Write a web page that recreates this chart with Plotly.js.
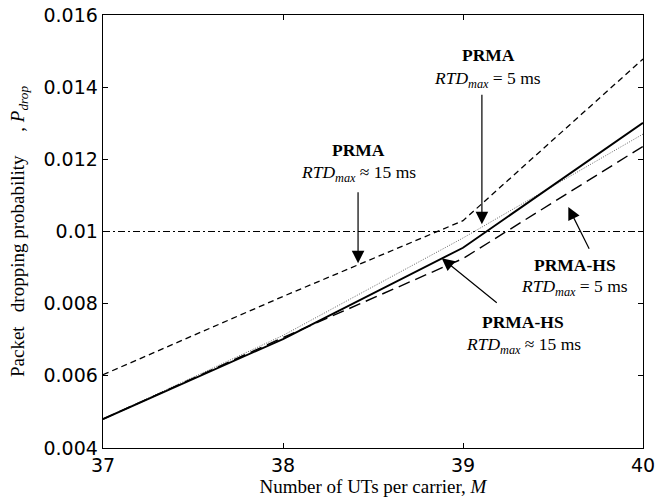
<!DOCTYPE html>
<html>
<head>
<meta charset="utf-8">
<script src="https://cdn.plot.ly/plotly-3.0.1.min.js"></script>
<style>html,body{margin:0;padding:0;background:#fff;}#chart{width:655px;height:502px;}</style>
</head>
<body>
<div id="chart"></div>
<script>
// Number of UTs per carrier
const M = [37, 38, 39, 40];
// Packet dropping probability for each scheme
const prma15 = [0.00603, 0.00820, 0.01030, 0.01478];   // PRMA, RTDmax ~ 15 ms (short dash)
const prma5 = [0.00480, 0.00712, 0.00982, 0.01270];    // PRMA, RTDmax = 5 ms (dotted)
const prmaHs15 = [0.00480, 0.00702, 0.00955, 0.01301]; // PRMA-HS, RTDmax ~ 15 ms (solid)
const prmaHs5 = [0.00480, 0.00706, 0.00925, 0.01236];  // PRMA-HS, RTDmax = 5 ms (long dash)
const thresholdX = [37, 40];
const thresholdY = [0.01, 0.01];

const xTickVals = [37, 38, 39, 40];
const xTickText = ['37', '38', '39', '40'];
const yTickVals = [0.004, 0.006, 0.008, 0.01, 0.012, 0.014, 0.016];
const yTickText = ['0.004', '0.006', '0.008', '0.01', '0.012', '0.014', '0.016'];

const serif = 'Liberation Serif, Times New Roman, serif';
const sans = 'DejaVu Sans, Arial, sans-serif';

const traces = [
  {x: thresholdX, y: thresholdY, mode: 'lines', name: 'threshold',
   line: {color: '#000', width: 1, dash: '7px,3px,2px,3px'}},
  {x: M, y: prma15, mode: 'lines', name: 'PRMA 15 ms',
   line: {color: '#000', width: 1.3, dash: '6px,4px'}},
  {x: M, y: prma5, mode: 'lines', name: 'PRMA 5 ms',
   line: {color: '#555', width: 0.9, dash: '1px,1.5px'}},
  {x: M, y: prmaHs15, mode: 'lines', name: 'PRMA-HS 15 ms',
   line: {color: '#000', width: 1.9}},
  {x: M, y: prmaHs5, mode: 'lines', name: 'PRMA-HS 5 ms',
   line: {color: '#000', width: 1.4, dash: '12px,6px'}}
];

const rtd = '<i>RTD</i><sub><i>max</i></sub>';
function label(x, y, text, bold) {
  return {x: x, y: y, xref: 'x', yref: 'y', text: bold ? '<b>' + text + '</b>' : text,
    showarrow: false, font: {family: serif, size: 17.5, color: '#000'},
    xanchor: 'center', yanchor: 'middle'};
}
function arrow(x, y, ax, ay) {
  return {x: x, y: y, ax: ax, ay: ay, xref: 'x', yref: 'y', axref: 'x', ayref: 'y',
    text: '', showarrow: true, arrowhead: 2, arrowsize: 2.1, arrowwidth: 1.2,
    arrowcolor: '#000', standoff: 0, startstandoff: 0};
}

const annotations = [
  label(38.417, 0.01225, 'PRMA', true),
  label(38.417, 0.01162, rtd + ' \u2248 15 ms', false),
  arrow(38.417, 0.00912, 38.417, 0.01113),
  label(39.143, 0.01489, 'PRMA', true),
  label(39.135, 0.01422, rtd + ' = 5 ms', false),
  arrow(39.105, 0.0102, 39.105, 0.01383),
  label(39.622, 0.00907, 'PRMA-HS', true),
  label(39.622, 0.00845, rtd + ' = 5 ms', false),
  arrow(39.585, 0.01068, 39.705, 0.00948),
  label(39.335, 0.0075, 'PRMA-HS', true),
  label(39.335, 0.00685, rtd + ' \u2248 15 ms', false),
  arrow(38.882, 0.00926, 39.196, 0.00799)
];

const layout = {
  width: 655, height: 502,
  margin: {l: 103, r: 12, t: 15, b: 54},
  paper_bgcolor: '#fff', plot_bgcolor: '#fff',
  showlegend: false,
  xaxis: {
    range: [37, 40], tickvals: xTickVals, ticktext: xTickText,
    ticks: 'inside', ticklen: 5, tickcolor: '#000', showgrid: false, zeroline: false,
    showline: true, linecolor: '#000', linewidth: 1.3, mirror: 'ticks',
    ticklabeloverflow: 'allow',
    tickfont: {family: sans, size: 19, color: '#000'},
    title: {text: 'Number of UTs per carrier, <i>M</i>', font: {family: serif, size: 19, color: '#000'}, standoff: 4}
  },
  yaxis: {
    range: [0.004, 0.016], tickvals: yTickVals, ticktext: yTickText,
    ticks: 'inside', ticklen: 5, tickcolor: '#000', showgrid: false, zeroline: false,
    showline: true, linecolor: '#000', linewidth: 1.3, mirror: 'ticks',
    ticklabeloverflow: 'allow',
    tickfont: {family: sans, size: 19, color: '#000'},
    title: {text: 'Packet\u00a0\u00a0 dropping probability\u00a0\u00a0\u00a0\u00a0 , <i>P</i><sub><i>drop</i></sub>', font: {family: serif, size: 19, color: '#000'}, standoff: 13}
  },
  annotations: annotations
};

Plotly.newPlot('chart', traces, layout, {displayModeBar: false, staticPlot: true});
</script>
</body>
</html>
